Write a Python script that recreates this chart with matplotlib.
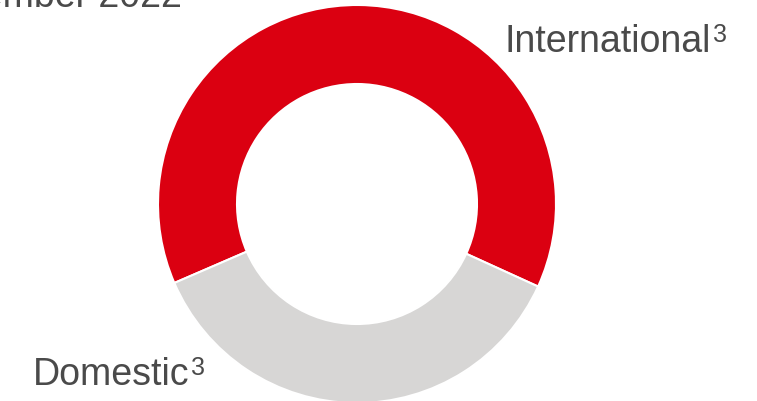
import matplotlib.pyplot as plt

# Split of the portfolio by region
regions = ["International", "Domestic"]
shares = [63.3, 36.7]
footnote = "3"
period = "December 2022"

colors = ["#DB0011", "#D7D6D5"]
text_color = "#4a4a4a"

W, H = 757, 402
fig = plt.figure(figsize=(W / 100, H / 100), dpi=100)
ax = fig.add_axes([0, 0, 1, 1])

ax.pie(shares, colors=colors, startangle=-24.5, counterclock=True,
       center=(357, 197), radius=199,
       wedgeprops=dict(width=79, edgecolor="white", linewidth=1.5))

# axes in pixel units so the ring and labels line up with the canvas
ax.set_xlim(0, W)
ax.set_ylim(0, H)
ax.set_aspect("equal")
ax.axis("off")

font = dict(family="Liberation Sans", color=text_color)

ax.text(182, H - 7, period, ha="right", va="baseline", fontsize=27, **font)


def label(x, y, name):
    t = ax.text(x, y, name, ha="left", va="baseline", fontsize=27, **font)
    ax.annotate(footnote, xy=(1, 1), xycoords=t, xytext=(1, 1),
                textcoords="offset points", ha="left", va="top",
                fontsize=18, **font)


label(505, H - 52, regions[0])
label(33, H - 385, regions[1])

fig.savefig("out.png", dpi=100)
